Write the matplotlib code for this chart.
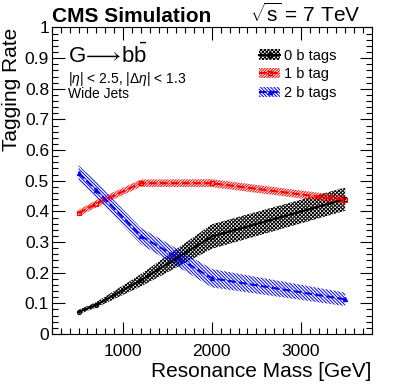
import matplotlib
matplotlib.use('Agg')
import matplotlib.pyplot as plt
from matplotlib.patches import Patch
from matplotlib.lines import Line2D
from matplotlib.ticker import MultipleLocator

plt.rcParams['font.family'] = ['Liberation Sans', 'DejaVu Sans']
plt.rcParams['mathtext.fontset'] = 'custom'
plt.rcParams['mathtext.rm'] = 'Liberation Sans'
plt.rcParams['mathtext.it'] = 'Liberation Sans:italic'
plt.rcParams['hatch.linewidth'] = 0.7

# resonance masses of the signal samples
mass = [500, 700, 1200, 2000, 3500]

# tagging rates and their uncertainties
rate_0b = [0.072, 0.095, 0.175, 0.318, 0.440]
err_0b = [0.007, 0.009, 0.02, 0.04, 0.038]
rate_1b = [0.394, 0.425, 0.492, 0.492, 0.437]
err_1b = [0.011, 0.012, 0.012, 0.013, 0.013]
rate_2b = [0.525, 0.47, 0.32, 0.182, 0.113]
err_2b = [0.026, 0.026, 0.027, 0.03, 0.022]

labels = ['0 b tags', '1 b tag', '2 b tags']

fig = plt.figure(figsize=(3.99, 3.87), dpi=100)
ax = fig.add_axes([0.130, 0.137, 0.802, 0.792])

series = [
    (rate_0b, err_0b, 'black', 'x' * 9, '-', 'o', 'none'),
    (rate_1b, err_1b, 'red', '/' * 12, '--', 's', 'none'),
    (rate_2b, err_2b, 'blue', '\\' * 10, '--', '^', 'blue'),
]

handles = []
for (r, e, c, h, ls, mk, mfc) in series:
    lo = [a - b for a, b in zip(r, e)]
    hi = [a + b for a, b in zip(r, e)]
    ax.fill_between(mass, lo, hi, facecolor='none', edgecolor=c, hatch=h, linewidth=0)
    ax.plot(mass, r, color=c, ls=ls, lw=1.5, marker=mk, ms=3, mfc=mfc, mec=c, mew=0.8)
    handles.append((Patch(facecolor='none', edgecolor=c, hatch=h, linewidth=0),
                    Line2D([], [], color=c, ls=ls, lw=1.5, marker=mk, ms=3, mfc=mfc, mec=c)))

ax.set_xlim(200, 3800)
ax.set_ylim(0, 1)
ax.xaxis.set_major_locator(MultipleLocator(1000))
ax.xaxis.set_minor_locator(MultipleLocator(100))
ax.yaxis.set_major_locator(MultipleLocator(0.1))
ax.yaxis.set_minor_locator(MultipleLocator(0.02))
ax.tick_params(which='both', direction='in', top=True, right=True, labelsize=12.5)
ax.tick_params(which='major', length=9, width=0.8)
ax.tick_params(which='minor', length=4.5, width=0.8)
ax.tick_params(axis='x', pad=7)
ax.tick_params(axis='y', pad=2)
ax.set_yticks([0, 0.1, 0.2, 0.3, 0.4, 0.5, 0.6, 0.7, 0.8, 0.9, 1.0])
ax.set_yticklabels(['0', '0.1', '0.2', '0.3', '0.4', '0.5', '0.6', '0.7', '0.8', '0.9', '1'])
for s in ax.spines.values():
    s.set_linewidth(0.8)

ax.set_xlabel('Resonance Mass [GeV]', fontsize=15, loc='right')
ax.set_ylabel('Tagging Rate', fontsize=15, loc='top')
ax.xaxis.set_label_coords(1.0, -0.09)
ax.yaxis.set_label_coords(-0.097, 1.0)

fig.text(0.130, 0.942, 'CMS Simulation', fontsize=15, fontweight='bold', ha='left', va='baseline')
fig.text(0.903, 0.942, r'$\sqrt{\mathrm{s}}$ = 7 TeV', fontsize=15, ha='right', va='baseline')

ax.text(0.05, 0.885, r'G$\!\longrightarrow\!$b$\bar{\mathrm{b}}$', transform=ax.transAxes, fontsize=16, va='baseline')
ax.text(0.05, 0.82, r'|$\eta$| < 2.5, |$\Delta\eta$| < 1.3', transform=ax.transAxes, fontsize=10, va='baseline')
ax.text(0.05, 0.77, 'Wide Jets', transform=ax.transAxes, fontsize=10, va='baseline')

ax.legend(handles, labels, loc='upper left', bbox_to_anchor=(0.63, 0.95), frameon=False,
          fontsize=10.5, handlelength=1.4, handletextpad=0.3, labelspacing=0.32, borderaxespad=0)

fig.savefig('out.png', dpi=100)
